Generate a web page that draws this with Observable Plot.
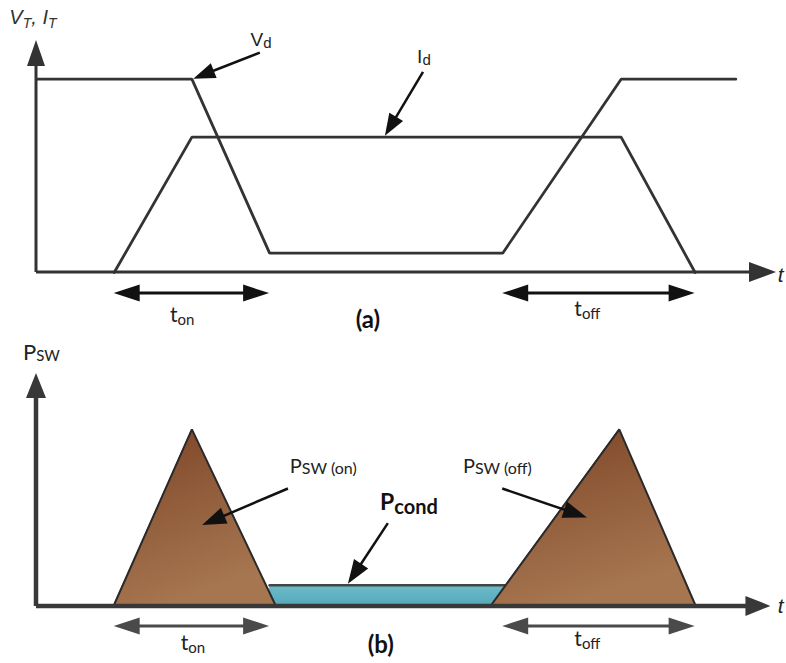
<!DOCTYPE html>
<html>
<head>
<meta charset="utf-8">
<script src="https://cdn.jsdelivr.net/npm/d3@7"></script>
<script src="https://cdn.jsdelivr.net/npm/@observablehq/plot@0.6"></script>
<style>
  html, body { margin: 0; padding: 0; background: #fff; }
  #chart svg { display: block; }
</style>
</head>
<body>
<div id="chart"></div>
<script>
// ---- (a) device voltage and current during one switching cycle ----
const vdTime  = [0, 4.2, 6.3, 12.6, 15.8, 18.9];
const vdValue = [1, 1, 0.1, 0.1, 1, 1];
const idTime  = [2.1, 4.2, 15.8, 17.8];
const idValue = [0, 0.7, 0.7, 0];

// ---- (b) instantaneous power loss ----
const pswOnTime  = [2.1, 4.2, 6.45];
const pswOffTime = [12.3, 15.75, 17.8];
const pswValue   = [0, 0.91, 0];
const condTime   = [6.3, 12.65];
const condValue  = 0.1;

// switching intervals marked under each panel
const intervalNames = ["t{on}", "t{off}"];
const intervalFrom  = [2.1, 12.6];
const intervalTo    = [6.3, 17.8];

const tMax = 20, vMax = 1.2;

// ---------- helpers ----------
const lineFont = "'Liberation Sans', Arial, sans-serif";
const noteFont = "Lato, 'Noto Sans', sans-serif";

// straight arrows with filled triangular heads, placed through the x/y scales
function arrows(list, {stroke = "#111", strokeWidth = 2.5, head = 22, half = 8, both = false} = {}) {
  return (index, {x, y}) => {
    const g = d3.create("svg:g");
    const tip = (px, py, ux, uy) => {
      const bx = px - ux * head, by = py - uy * head;
      return `M${px},${py}L${bx - uy * half},${by + ux * half}L${bx + uy * half},${by - ux * half}Z`;
    };
    for (const a of list) {
      const x1 = x(a.x1), y1 = y(a.y1), x2 = x(a.x2), y2 = y(a.y2);
      const len = Math.hypot(x2 - x1, y2 - y1), ux = (x2 - x1) / len, uy = (y2 - y1) / len;
      const s = both ? head * 0.8 : 0, e = head * 0.8;
      g.append("line")
        .attr("x1", x1 + ux * s).attr("y1", y1 + uy * s)
        .attr("x2", x2 - ux * e).attr("y2", y2 - uy * e)
        .attr("stroke", stroke).attr("stroke-width", strokeWidth);
      g.append("path").attr("d", tip(x2, y2, ux, uy)).attr("fill", stroke);
      if (both) g.append("path").attr("d", tip(x1, y1, -ux, -uy)).attr("fill", stroke);
    }
    return g.node();
  };
}

// labels with subscripts written as "P{SW}"
function labels(list, {font, size, subSize, weight = "normal", style = "normal",
                       anchor = "start", fill = "#1a1a1a", shift = 4} = {}) {
  return (index, {x, y}) => {
    const g = d3.create("svg:g")
      .attr("font-family", font).attr("font-weight", weight)
      .attr("font-style", style).attr("fill", fill).attr("text-anchor", anchor);
    for (const d of list) {
      const text = g.append("text").attr("x", x(d.x)).attr("y", y(d.y)).attr("font-size", size);
      let down = false;
      d.text.split(/[{}]/).forEach((part, i) => {
        if (!part) return;
        const sub = i % 2 === 1;
        const span = text.append("tspan").text(part);
        if (sub) {
          span.attr("font-size", subSize);
          if (!down) { span.attr("dy", shift); down = true; }
        } else if (down) {
          span.attr("dy", -shift); down = false;
        }
      });
    }
    return g.node();
  };
}

function gradientDefs() {
  return () => {
    const defs = d3.create("svg:defs");
    const brown = defs.append("linearGradient").attr("id", "pswFill")
      .attr("x1", 0).attr("y1", 0).attr("x2", 0.35).attr("y2", 1);
    brown.append("stop").attr("offset", "0%").attr("stop-color", "#7c4426");
    brown.append("stop").attr("offset", "100%").attr("stop-color", "#a67650");
    const teal = defs.append("linearGradient").attr("id", "condFill")
      .attr("x1", 0).attr("y1", 0).attr("x2", 0).attr("y2", 1);
    teal.append("stop").attr("offset", "0%").attr("stop-color", "#6cbccb");
    teal.append("stop").attr("offset", "100%").attr("stop-color", "#58a9ba");
    return defs.node();
  };
}

function panel(height, marginTop, marginBottom, marks) {
  return Plot.plot({
    width: 786, height, marginLeft: 36, marginRight: 10, marginTop, marginBottom,
    x: {domain: [0, tMax], axis: null},
    y: {domain: [0, vMax], axis: null},
    style: {background: "#fff", overflow: "visible"},
    marks
  });
}

const intervals = intervalNames.map((name, i) => ({name, from: intervalFrom[i], to: intervalTo[i]}));
const vd = vdTime.map((t, i) => ({t, v: vdValue[i]}));
const id = idTime.map((t, i) => ({t, v: idValue[i]}));
const psw = [
  ...pswOnTime.map((t, i) => ({phase: "on", t, p: pswValue[i]})),
  ...pswOffTime.map((t, i) => ({phase: "off", t, p: pswValue[i]}))
];
const cond = [{x1: condTime[0], x2: condTime[1], y1: 0, y2: condValue}];

// ---------- panel (a) ----------
const chartA = panel(335, 40, 63, [
  Plot.line(vd, {x: "t", y: "v", stroke: "#333", strokeWidth: 2.8, strokeLinejoin: "miter"}),
  Plot.line(id, {x: "t", y: "v", stroke: "#333", strokeWidth: 2.8, strokeLinejoin: "miter"}),
  arrows([{x1: 0, y1: 0, x2: tMax, y2: 0}], {stroke: "#333", strokeWidth: 3, head: 27, half: 10}),
  arrows([{x1: 0, y1: 0, x2: 0, y2: vMax}], {stroke: "#333", strokeWidth: 3, head: 26, half: 9}),
  arrows([
    {x1: 6.05, y1: 1.135, x2: 4.25, y2: 1.0},
    {x1: 10.46, y1: 1.035, x2: 9.43, y2: 0.705}
  ], {stroke: "#111", strokeWidth: 2.5, head: 22, half: 8}),
  arrows(intervals.map(d => ({x1: d.from, y1: -0.109, x2: d.to, y2: -0.109})),
    {stroke: "#111", strokeWidth: 3, head: 26, half: 8.5, both: true}),
  labels([{x: -0.72, y: 1.285, text: "V{T}, I{T}"}],
    {font: lineFont, size: 20, subSize: 14, style: "italic", fill: "#333", shift: 4}),
  labels([{x: 5.8, y: 1.17, text: "V{d}"}, {x: 10.3, y: 1.08, text: "I{d}"}],
    {font: lineFont, size: 19, subSize: 15, fill: "#222", shift: 2}),
  labels([{x: 20.05, y: -0.05, text: "t"}],
    {font: lineFont, size: 21, style: "italic", fill: "#222"}),
  labels([{x: 3.95, y: -0.26, text: intervals[0].name}, {x: 14.9, y: -0.23, text: intervals[1].name}],
    {font: noteFont, size: 21, subSize: 15, anchor: "middle", fill: "#222", shift: 3}),
  labels([{x: 8.97, y: -0.29, text: "(a)"}],
    {font: noteFont, size: 24, weight: "bold", anchor: "middle", fill: "#111"})
]);

// ---------- panel (b) ----------
const chartB = panel(328, 38, 59, [
  gradientDefs(),
  Plot.rect(cond, {x1: "x1", x2: "x2", y1: "y1", y2: "y2", fill: "url(#condFill)"}),
  Plot.line(cond.flatMap(d => [{t: d.x1, p: d.y2}, {t: d.x2, p: d.y2}]),
    {x: "t", y: "p", stroke: "#444", strokeWidth: 2.5}),
  Plot.areaY(psw, {x: "t", y: "p", z: "phase", fill: "url(#pswFill)"}),
  Plot.line(psw, {x: "t", y: "p", z: "phase", stroke: "#2a2a2a", strokeWidth: 2, strokeLinejoin: "miter"}),
  arrows([{x1: 0, y1: -0.01, x2: 19.85, y2: -0.01}], {stroke: "#383838", strokeWidth: 4.5, head: 25, half: 10}),
  arrows([{x1: 0, y1: -0.01, x2: 0, y2: vMax}], {stroke: "#383838", strokeWidth: 4.5, head: 25, half: 10}),
  arrows([
    {x1: 6.81, y1: 0.60, x2: 4.49, y2: 0.41},
    {x1: 12.6, y1: 0.60, x2: 14.89, y2: 0.45},
    {x1: 9.51, y1: 0.42, x2: 8.43, y2: 0.105}
  ], {stroke: "#111", strokeWidth: 2.5, head: 24, half: 8.5}),
  arrows(intervals.map(d => ({x1: d.from, y1: -0.114, x2: d.to, y2: -0.114})),
    {stroke: "#4a4a4a", strokeWidth: 3, head: 26, half: 8.5, both: true}),
  labels([{x: -0.35, y: 1.27, text: "P{SW}"}],
    {font: noteFont, size: 22, subSize: 15, fill: "#222", shift: 1}),
  labels([{x: 6.86, y: 0.68, text: "P{SW (on)}"}, {x: 11.54, y: 0.68, text: "P{SW (off)}"}],
    {font: noteFont, size: 20, subSize: 16, fill: "#222", shift: 1}),
  labels([{x: 9.3, y: 0.49, text: "P{cond}"}],
    {font: noteFont, size: 23, subSize: 20, weight: "bold", fill: "#111", shift: 4}),
  labels([{x: 20.05, y: -0.045, text: "t"}],
    {font: lineFont, size: 21, style: "italic", fill: "#222"}),
  labels([{x: 4.24, y: -0.24, text: intervals[0].name}, {x: 14.9, y: -0.22, text: intervals[1].name}],
    {font: noteFont, size: 21, subSize: 15, anchor: "middle", fill: "#222", shift: 3}),
  labels([{x: 9.32, y: -0.255, text: "(b)"}],
    {font: noteFont, size: 24, weight: "bold", anchor: "middle", fill: "#111"})
]);

const root = document.getElementById("chart");
root.append(chartA, chartB);
</script>
</body>
</html>
